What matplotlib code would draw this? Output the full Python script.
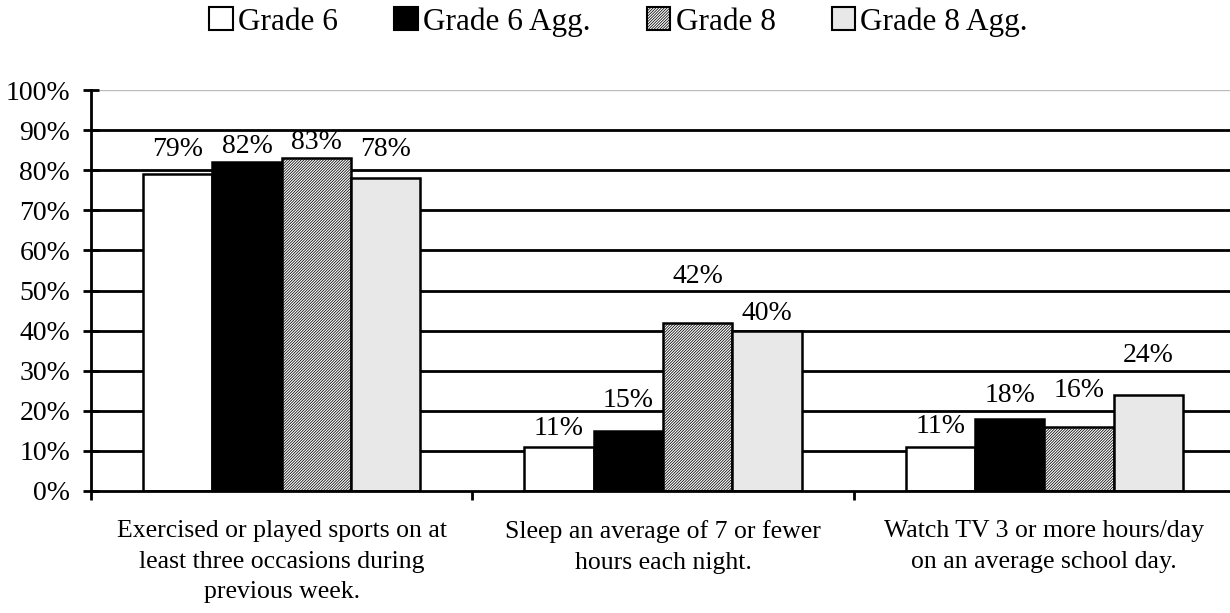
import matplotlib
matplotlib.use("Agg")
import matplotlib.pyplot as plt
import numpy as np
from matplotlib.patches import Patch

plt.rcParams['font.family'] = ['Liberation Serif', 'DejaVu Serif']
plt.rcParams['hatch.linewidth'] = 0.55

categories = ["Exercised or played sports on at\nleast three occasions during\nprevious week.",
              "Sleep an average of 7 or fewer\nhours each night.",
              "Watch TV 3 or more hours/day\non an average school day."]
series_names = ["Grade 6", "Grade 6 Agg.", "Grade 8", "Grade 8 Agg."]
grade6 = [79, 11, 11]
grade6_agg = [82, 15, 18]
grade8 = [83, 42, 16]
grade8_agg = [78, 40, 24]
yticks = [0, 10, 20, 30, 40, 50, 60, 70, 80, 90, 100]
ytick_labels = ["0%", "10%", "20%", "30%", "40%", "50%", "60%", "70%", "80%", "90%", "100%"]

# vertical gap (pixels) between each bar top and its label baseline, per series
label_gaps = [[18, 12, 14], [9, 24, 17], [9, 40, 30], [22, 11, 33]]

values = [grade6, grade6_agg, grade8, grade8_agg]
styles = [dict(facecolor="white", hatch=None),
          dict(facecolor="black", hatch=None),
          dict(facecolor="white", hatch="////////////"),
          dict(facecolor="#e8e8e8", hatch=None)]

fig = plt.figure(figsize=(12.30, 6.13), dpi=100)
ax = fig.add_axes([91/1230, (613-491)/613, 1144/1230, 401/613])

fs_tick = 20
fs_lab = 20
fs_cat = 18.5
fs_leg = 22.5
px2pt = 72 / 100

x = np.arange(len(categories))
w = 0.182
for i, (vals, st) in enumerate(zip(values, styles)):
    pos = x + (i - 1.5) * w
    bars = ax.bar(pos, vals, w, facecolor=st["facecolor"], hatch=st["hatch"],
                  edgecolor="black", linewidth=1.8, zorder=3, label=series_names[i])
    for j, (b, v) in enumerate(zip(bars, vals)):
        ax.annotate(f"{v}%", xy=(b.get_x() + b.get_width()/2, v),
                    xytext=(0, label_gaps[i][j] * px2pt), textcoords="offset points",
                    ha="center", va="baseline", fontsize=fs_lab, zorder=4)

for t in yticks[1:-1]:
    ax.axhline(t, color="black", linewidth=2, zorder=1)
ax.axhline(100, color="#bbbbbb", linewidth=1, zorder=1)

ax.set_xlim(-0.5, 2.5)
ax.set_ylim(0, 100)
ax.set_yticks(yticks)
ax.set_yticklabels(ytick_labels, fontsize=fs_tick)
ax.set_xticks([-0.5, 0.5, 1.5, 2.5])
ax.set_xticklabels([])
ax.set_xticks(x, minor=True)
ax.set_xticklabels(categories, minor=True, fontsize=fs_cat, linespacing=1.5)
ax.tick_params(axis="x", which="minor", length=0, pad=21)
ax.tick_params(axis="x", which="major", direction="out", length=6.5, width=2)
ax.tick_params(axis="y", direction="inout", length=12, width=2, pad=9)
for s in ["top", "right"]:
    ax.spines[s].set_visible(False)
ax.spines["left"].set_linewidth(2)
ax.spines["bottom"].set_linewidth(2)
ax.spines["left"].set_zorder(5)
ax.spines["bottom"].set_zorder(5)

handles = [Patch(facecolor=st["facecolor"], hatch=st["hatch"], edgecolor="black", linewidth=1.5)
           for st in styles]
fig.legend(handles, series_names, loc="center", bbox_to_anchor=(0.503, 1 - 22/613), ncol=4,
           frameon=False, fontsize=fs_leg, handlelength=0.75, handleheight=0.75,
           handletextpad=0.17, columnspacing=1.8, borderpad=0)

fig.savefig("out.png", dpi=100)
